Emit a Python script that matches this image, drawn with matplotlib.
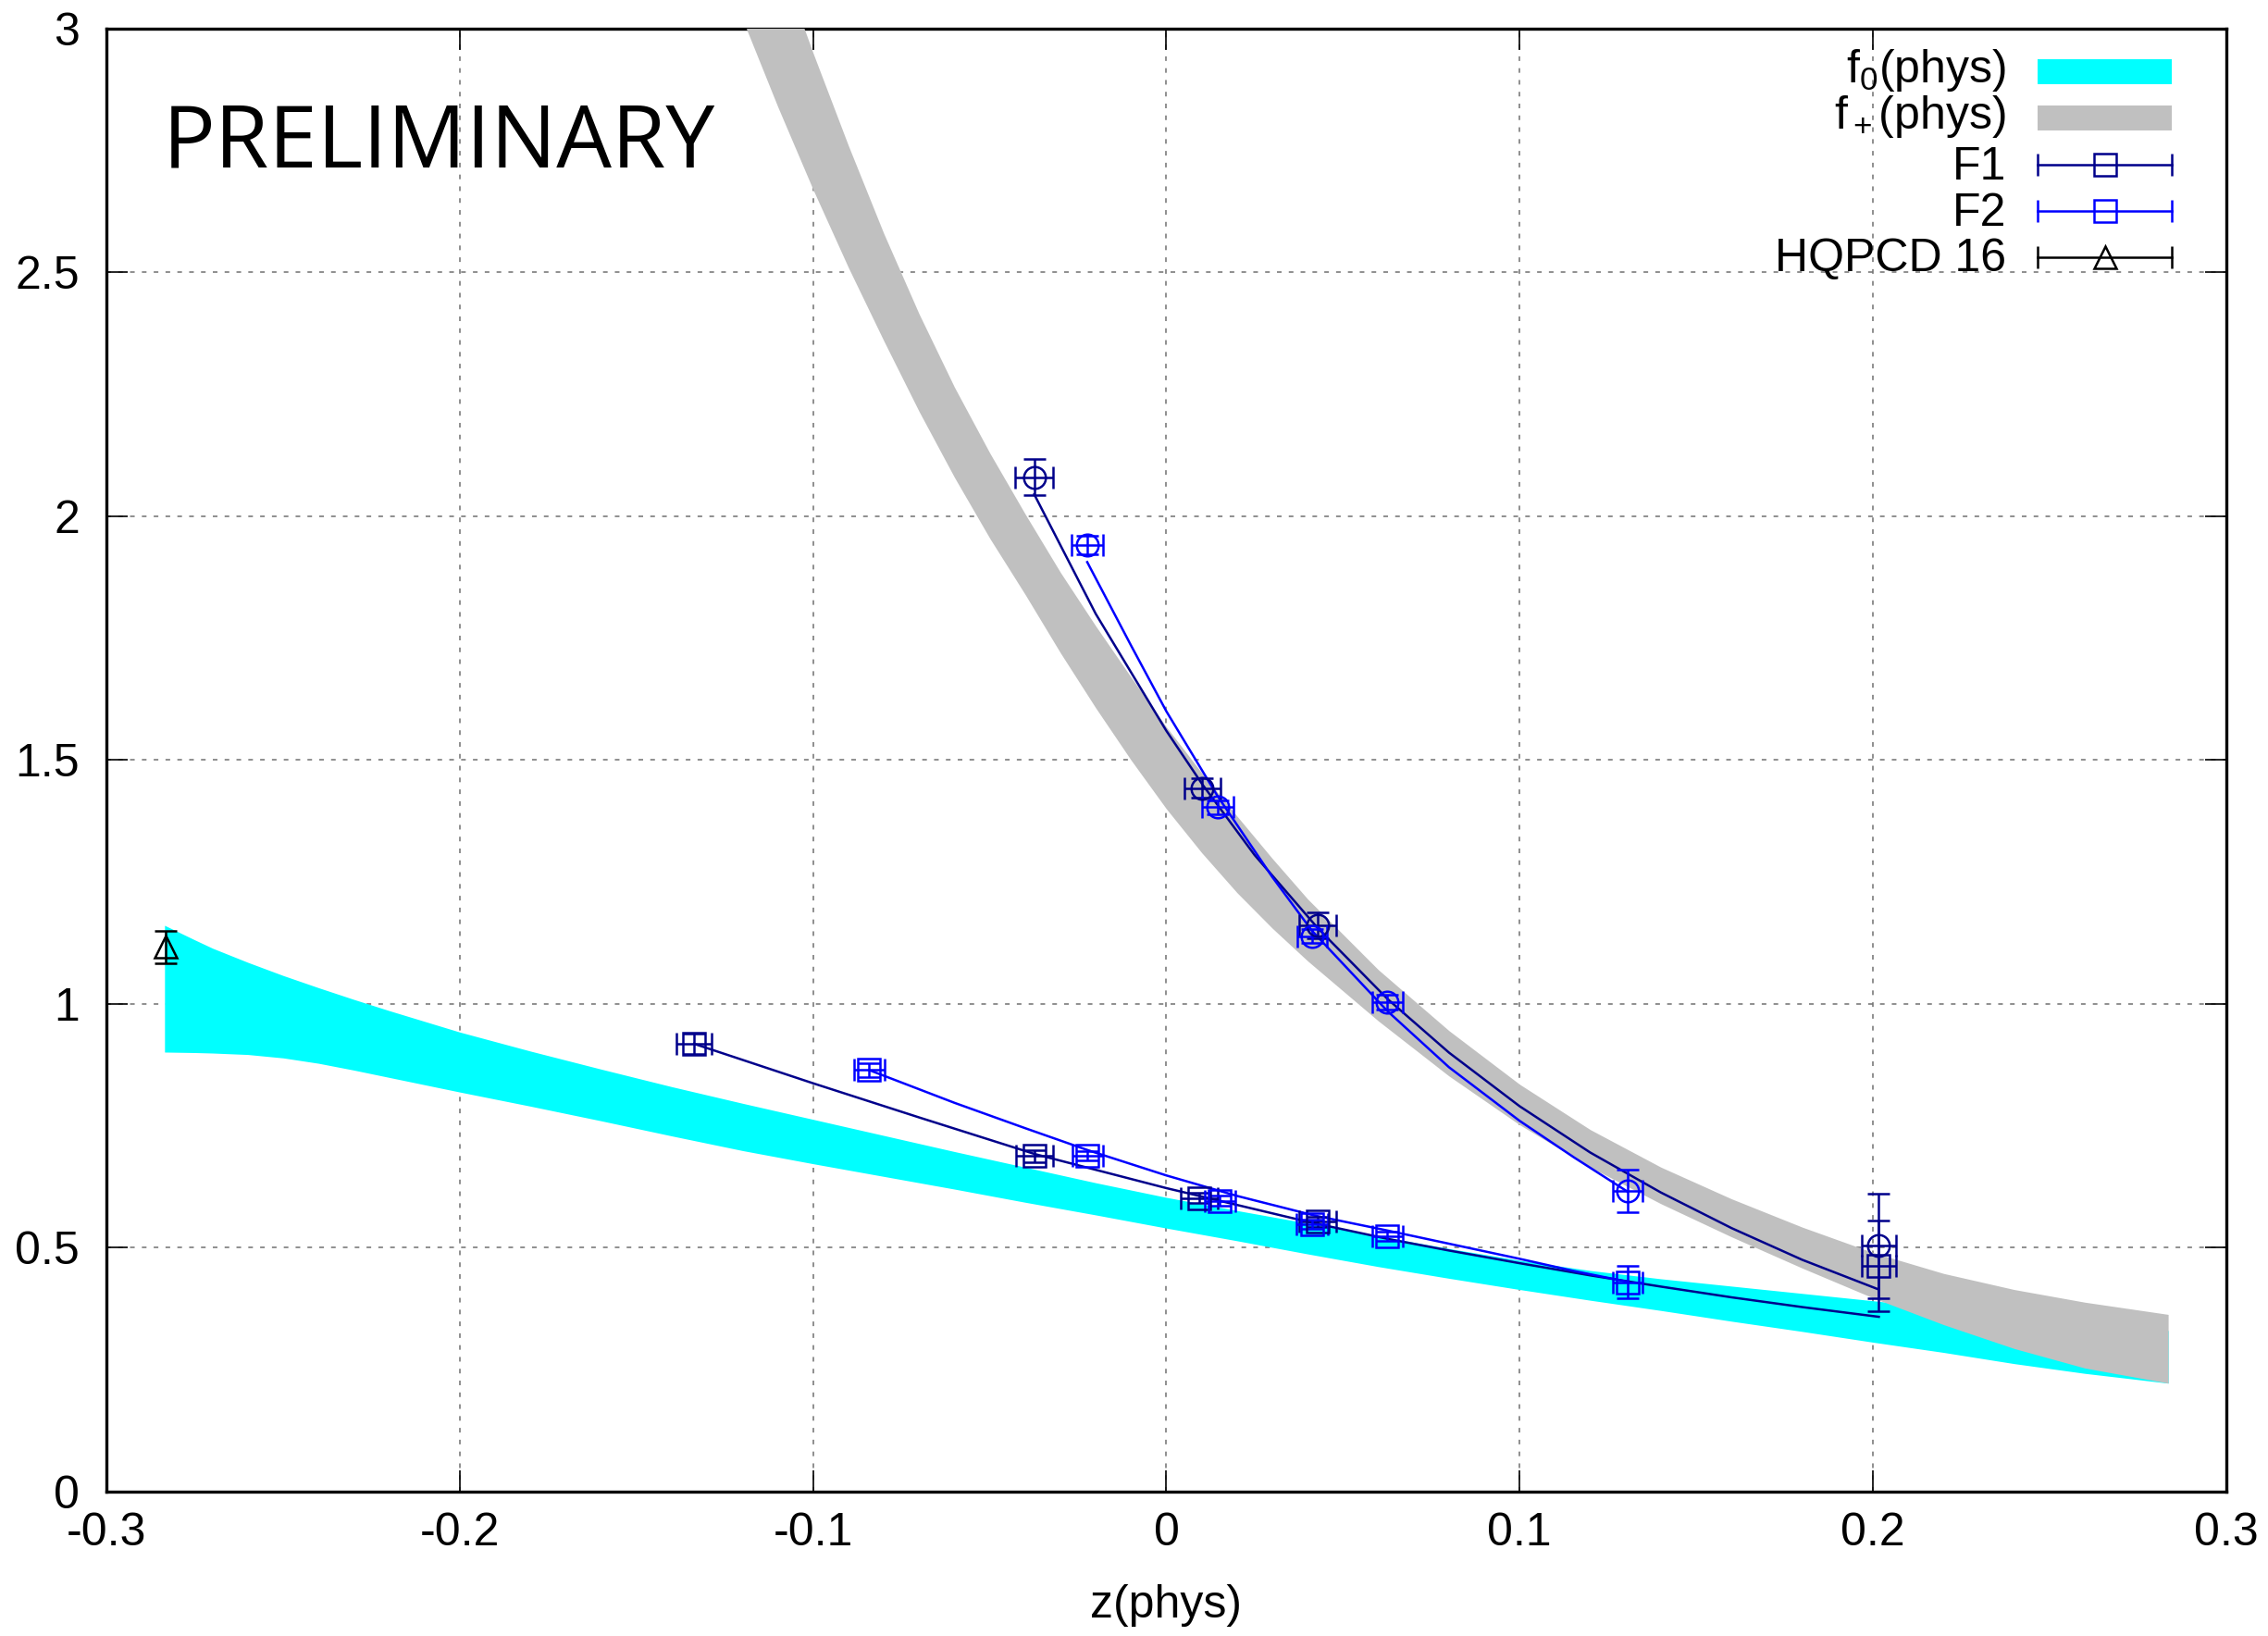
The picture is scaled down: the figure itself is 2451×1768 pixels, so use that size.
import matplotlib
matplotlib.use("Agg")
import matplotlib.pyplot as plt
from matplotlib.patches import Rectangle

plt.rcParams["font.family"] = ["Liberation Sans", "DejaVu Sans"]
plt.rcParams["mathtext.fontset"] = "custom"
plt.rcParams["mathtext.rm"] = "Liberation Sans"
plt.rcParams["mathtext.it"] = "Liberation Sans:italic"
plt.rcParams["mathtext.default"] = "regular"
plt.rcParams["axes.unicode_minus"] = False
plt.rcParams["lines.scale_dashes"] = False

# ---------------- data ----------------
# f0(phys) band (cyan)
f0_z = [-0.2836, -0.275, -0.27, -0.26, -0.25, -0.24, -0.23, -0.22, -0.20, -0.18,
        -0.16, -0.14, -0.12, -0.10, -0.08, -0.06, -0.04, -0.02, 0.00, 0.02,
        0.04, 0.06, 0.08, 0.10, 0.12, 0.14, 0.16, 0.18, 0.20, 0.22,
        0.24, 0.26, 0.2836]
f0_hi = [1.161, 1.131, 1.114, 1.085, 1.058, 1.033, 1.009, 0.986, 0.942, 0.903,
         0.866, 0.830, 0.796, 0.763, 0.730, 0.697, 0.665, 0.633, 0.603, 0.576,
         0.550, 0.524, 0.498, 0.474, 0.453, 0.436, 0.421, 0.406, 0.391, 0.376,
         0.361, 0.346, 0.330]
f0_lo = [0.901, 0.900, 0.899, 0.896, 0.889, 0.878, 0.864, 0.849, 0.819, 0.790,
         0.760, 0.729, 0.699, 0.672, 0.646, 0.620, 0.593, 0.567, 0.540, 0.514,
         0.487, 0.461, 0.437, 0.414, 0.392, 0.371, 0.349, 0.328, 0.306, 0.285,
         0.262, 0.242, 0.222]

# f+(phys) band (grey)
fp_z = [-0.125, -0.12, -0.11, -0.10, -0.09, -0.08, -0.07, -0.06, -0.05, -0.04,
        -0.03, -0.02, -0.01, 0.00, 0.01, 0.02, 0.03, 0.04,
        0.06, 0.08, 0.10, 0.12, 0.14, 0.16, 0.18, 0.20, 0.22, 0.24, 0.26, 0.2836]
fp_hi = [3.47, 3.36, 3.15, 2.95, 2.76, 2.58, 2.415, 2.265, 2.13, 2.005,
         1.885, 1.775, 1.67, 1.568, 1.474, 1.385, 1.298, 1.215,
         1.07, 0.945, 0.835, 0.742, 0.665, 0.600, 0.542, 0.490, 0.447, 0.414, 0.388, 0.363]
fp_lo = [3.12, 3.02, 2.84, 2.67, 2.51, 2.36, 2.215, 2.08, 1.955, 1.84,
         1.72, 1.607, 1.50, 1.40, 1.31, 1.228, 1.155, 1.088,
         0.965, 0.852, 0.752, 0.665, 0.590, 0.522, 0.458, 0.397, 0.342, 0.293, 0.253, 0.222]

# F1 ensemble (dark blue)
F1_f0_z = [-0.1337, -0.0373, 0.0093, 0.0429, 0.2017]
F1_f0_v = [0.918, 0.688, 0.602, 0.553, 0.463]
F1_f0_dz = [0.0050, 0.0052, 0.0052, 0.0052, 0.0049]
F1_f0_dv = [0.020, 0.012, 0.010, 0.010, 0.093]
F1_fp_z = [-0.0374, 0.0102, 0.0429, 0.2017]
F1_fp_v = [2.080, 1.442, 1.161, 0.504]
F1_fp_dz = [0.0053, 0.0051, 0.0052, 0.0049]
F1_fp_dv = [0.037, 0.020, 0.027, 0.107]
F1_f0_fit_z = [-0.1337, -0.10, -0.07, -0.0373, 0.0, 0.04, 0.0626, 0.08,
               0.10, 0.12, 0.14, 0.16, 0.18, 0.2017]
F1_f0_fit_v = [0.918, 0.837, 0.767, 0.692, 0.622, 0.553, 0.518, 0.494,
               0.468, 0.443, 0.420, 0.398, 0.378, 0.358]
F1_fp_fit_z = [-0.0374, -0.02, 0.0, 0.0102, 0.025, 0.0429, 0.0626, 0.08,
               0.10, 0.12, 0.14, 0.16, 0.18, 0.2017]
F1_fp_fit_v = [2.045, 1.80, 1.56, 1.45, 1.305, 1.155, 1.01, 0.90,
               0.79, 0.695, 0.613, 0.54, 0.475, 0.414]

# F2 ensemble (blue)
F2_f0_z = [-0.0841, -0.0223, 0.0152, 0.0412, 0.0626, 0.1305]
F2_f0_v = [0.864, 0.688, 0.596, 0.548, 0.523, 0.429]
F2_f0_dz = [0.0044, 0.0044, 0.0044, 0.0044, 0.0044, 0.0042]
F2_f0_dv = [0.015, 0.010, 0.010, 0.010, 0.010, 0.033]
F2_fp_z = [-0.0224, 0.0146, 0.0412, 0.0626, 0.1305]
F2_fp_v = [1.941, 1.403, 1.139, 1.003, 0.616]
F2_fp_dz = [0.0045, 0.0045, 0.0042, 0.0044, 0.0042]
F2_fp_dv = [0.019, 0.015, 0.015, 0.015, 0.044]
F2_f0_fit_z = [-0.0841, -0.06, -0.04, -0.0223, 0.0, 0.02, 0.0418, 0.0626,
               0.08, 0.10, 0.1154, 0.1305]
F2_f0_fit_v = [0.864, 0.797, 0.745, 0.700, 0.648, 0.606, 0.566, 0.535,
               0.508, 0.477, 0.452, 0.430]
F2_fp_fit_z = [-0.0224, -0.01, 0.0, 0.0146, 0.03, 0.0412, 0.0626, 0.08,
               0.10, 0.1154, 0.1305]
F2_fp_fit_v = [1.906, 1.735, 1.60, 1.425, 1.26, 1.15, 0.985, 0.87,
               0.76, 0.685, 0.615]

# HQPCD 16
HQ_z = [-0.2834]
HQ_v = [1.117]
HQ_dv = [0.033]

x_ticks = [-0.3, -0.2, -0.1, 0.0, 0.1, 0.2, 0.3]
x_ticklabels = ["-0.3", "-0.2", "-0.1", "0", "0.1", "0.2", "0.3"]
y_ticks = [0, 0.5, 1, 1.5, 2, 2.5, 3]
y_ticklabels = ["0", "0.5", "1", "1.5", "2", "2.5", "3"]

legend_labels = [r"$\mathregular{f_0(phys)}$", r"$\mathregular{f_+(phys)}$",
                 "F1", "F2", "HQPCD 16"]

# ---------------- styling ----------------
C_F1 = "#00008b"
C_F2 = "#0000ff"
C_CYAN = "#00ffff"
C_GREY = "#c0c0c0"
FS = 18

W, H = 2451, 1768
fig = plt.figure(figsize=(W / 200, H / 200), dpi=200)
ax_l, ax_r, ax_t, ax_b = 115.2, 2405.7, 31.0, 1611.7
ax = fig.add_axes([ax_l / W, (H - ax_b) / H, (ax_r - ax_l) / W, (ax_b - ax_t) / H])

ax.fill_between(f0_z, f0_lo, f0_hi, color=C_CYAN, linewidth=0, zorder=2)
ax.fill_between(fp_z, fp_lo, fp_hi, color=C_GREY, linewidth=0, zorder=3)

LW = 0.9
for fz, fv, c in [(F1_f0_fit_z, F1_f0_fit_v, C_F1), (F1_fp_fit_z, F1_fp_fit_v, C_F1),
                  (F2_f0_fit_z, F2_f0_fit_v, C_F2), (F2_fp_fit_z, F2_fp_fit_v, C_F2)]:
    ax.plot(fz, fv, color=c, lw=LW, zorder=4, solid_joinstyle="round")

MS = 8.5
CAP = 4.3
def eb(z, v, dz, dv, marker, c):
    ax.errorbar(z, v, xerr=dz, yerr=dv, fmt=marker, ms=MS, mfc="none", mec=c,
                mew=LW, ecolor=c, elinewidth=LW, capsize=CAP, capthick=LW, zorder=5)

eb(F1_f0_z, F1_f0_v, F1_f0_dz, F1_f0_dv, "s", C_F1)
eb(F1_fp_z, F1_fp_v, F1_fp_dz, F1_fp_dv, "o", C_F1)
eb(F2_f0_z, F2_f0_v, F2_f0_dz, F2_f0_dv, "s", C_F2)
eb(F2_fp_z, F2_fp_v, F2_fp_dz, F2_fp_dv, "o", C_F2)
ax.errorbar(HQ_z, HQ_v, yerr=HQ_dv, fmt="^", ms=MS, mfc="none", mec="black",
            mew=LW, ecolor="black", elinewidth=LW, capsize=CAP, capthick=LW, zorder=5)

ax.set_xlim(-0.3, 0.3)
ax.set_ylim(0, 3)
ax.set_xticks(x_ticks)
ax.set_xticklabels(x_ticklabels)
ax.set_yticks(y_ticks)
ax.set_yticklabels(y_ticklabels)
ax.tick_params(direction="in", length=8.4, width=0.6, top=True, right=True,
               labelsize=FS)
ax.tick_params(axis="x", pad=8.0)
ax.tick_params(axis="y", pad=10.5)
for s in ax.spines.values():
    s.set_linewidth(1.2)
ax.set_axisbelow(True)
ax.grid(True, color="#707070", lw=0.55, linestyle=(0, (1.8, 2.8)))

ax.set_xlabel("z(phys)", fontsize=FS)
ax.xaxis.set_label_coords(0.5, -0.078)
ax.xaxis.label.set_va("center")

ax.text(0.0265, 0.9057, "PRELIMINARY", transform=ax.transAxes, fontsize=34,
        family=["Open Sans", "DejaVu Sans"], fontweight="normal", va="baseline",
        ha="left", zorder=6)

# ---------------- legend (manual) ----------------
def ax_y(py):
    return 1 - (py - ax_t) / (ax_b - ax_t)

sx0, sx1 = 0.9111, 0.9744
sxc = (sx0 + sx1) / 2
text_x = 0.8962
row_c = [77.7, 127.3, 178.3, 228.3, 277.7]
row_base = [89.0, 139.0, 194.0, 244.0, 293.0]
rect_h = 27 / (ax_b - ax_t)

for i, lab in enumerate(legend_labels):
    ax.text(text_x, ax_y(row_base[i]), lab, transform=ax.transAxes, fontsize=FS,
            ha="right", va="baseline", zorder=7)

for i, c in [(0, C_CYAN), (1, C_GREY)]:
    ax.add_patch(Rectangle((sx0, ax_y(row_c[i]) - rect_h / 2), sx1 - sx0, rect_h,
                           transform=ax.transAxes, facecolor=c, edgecolor="none",
                           clip_on=False, zorder=7))

for i, c, m in [(2, C_F1, "s"), (3, C_F2, "s"), (4, "black", "^")]:
    yc = ax_y(row_c[i])
    ax.plot([sx0, sx1], [yc, yc], transform=ax.transAxes, color=c, lw=LW,
            clip_on=False, zorder=7)
    ax.plot([sx0, sx1], [yc, yc], transform=ax.transAxes, ls="none", marker="|",
            ms=8.3, mew=LW, color=c, clip_on=False, zorder=7)
    ax.plot([sxc], [yc], transform=ax.transAxes, ls="none", marker=m, ms=MS,
            mfc="none", mec=c, mew=LW, clip_on=False, zorder=7)

fig.savefig("out.png", dpi=200, facecolor="white")
